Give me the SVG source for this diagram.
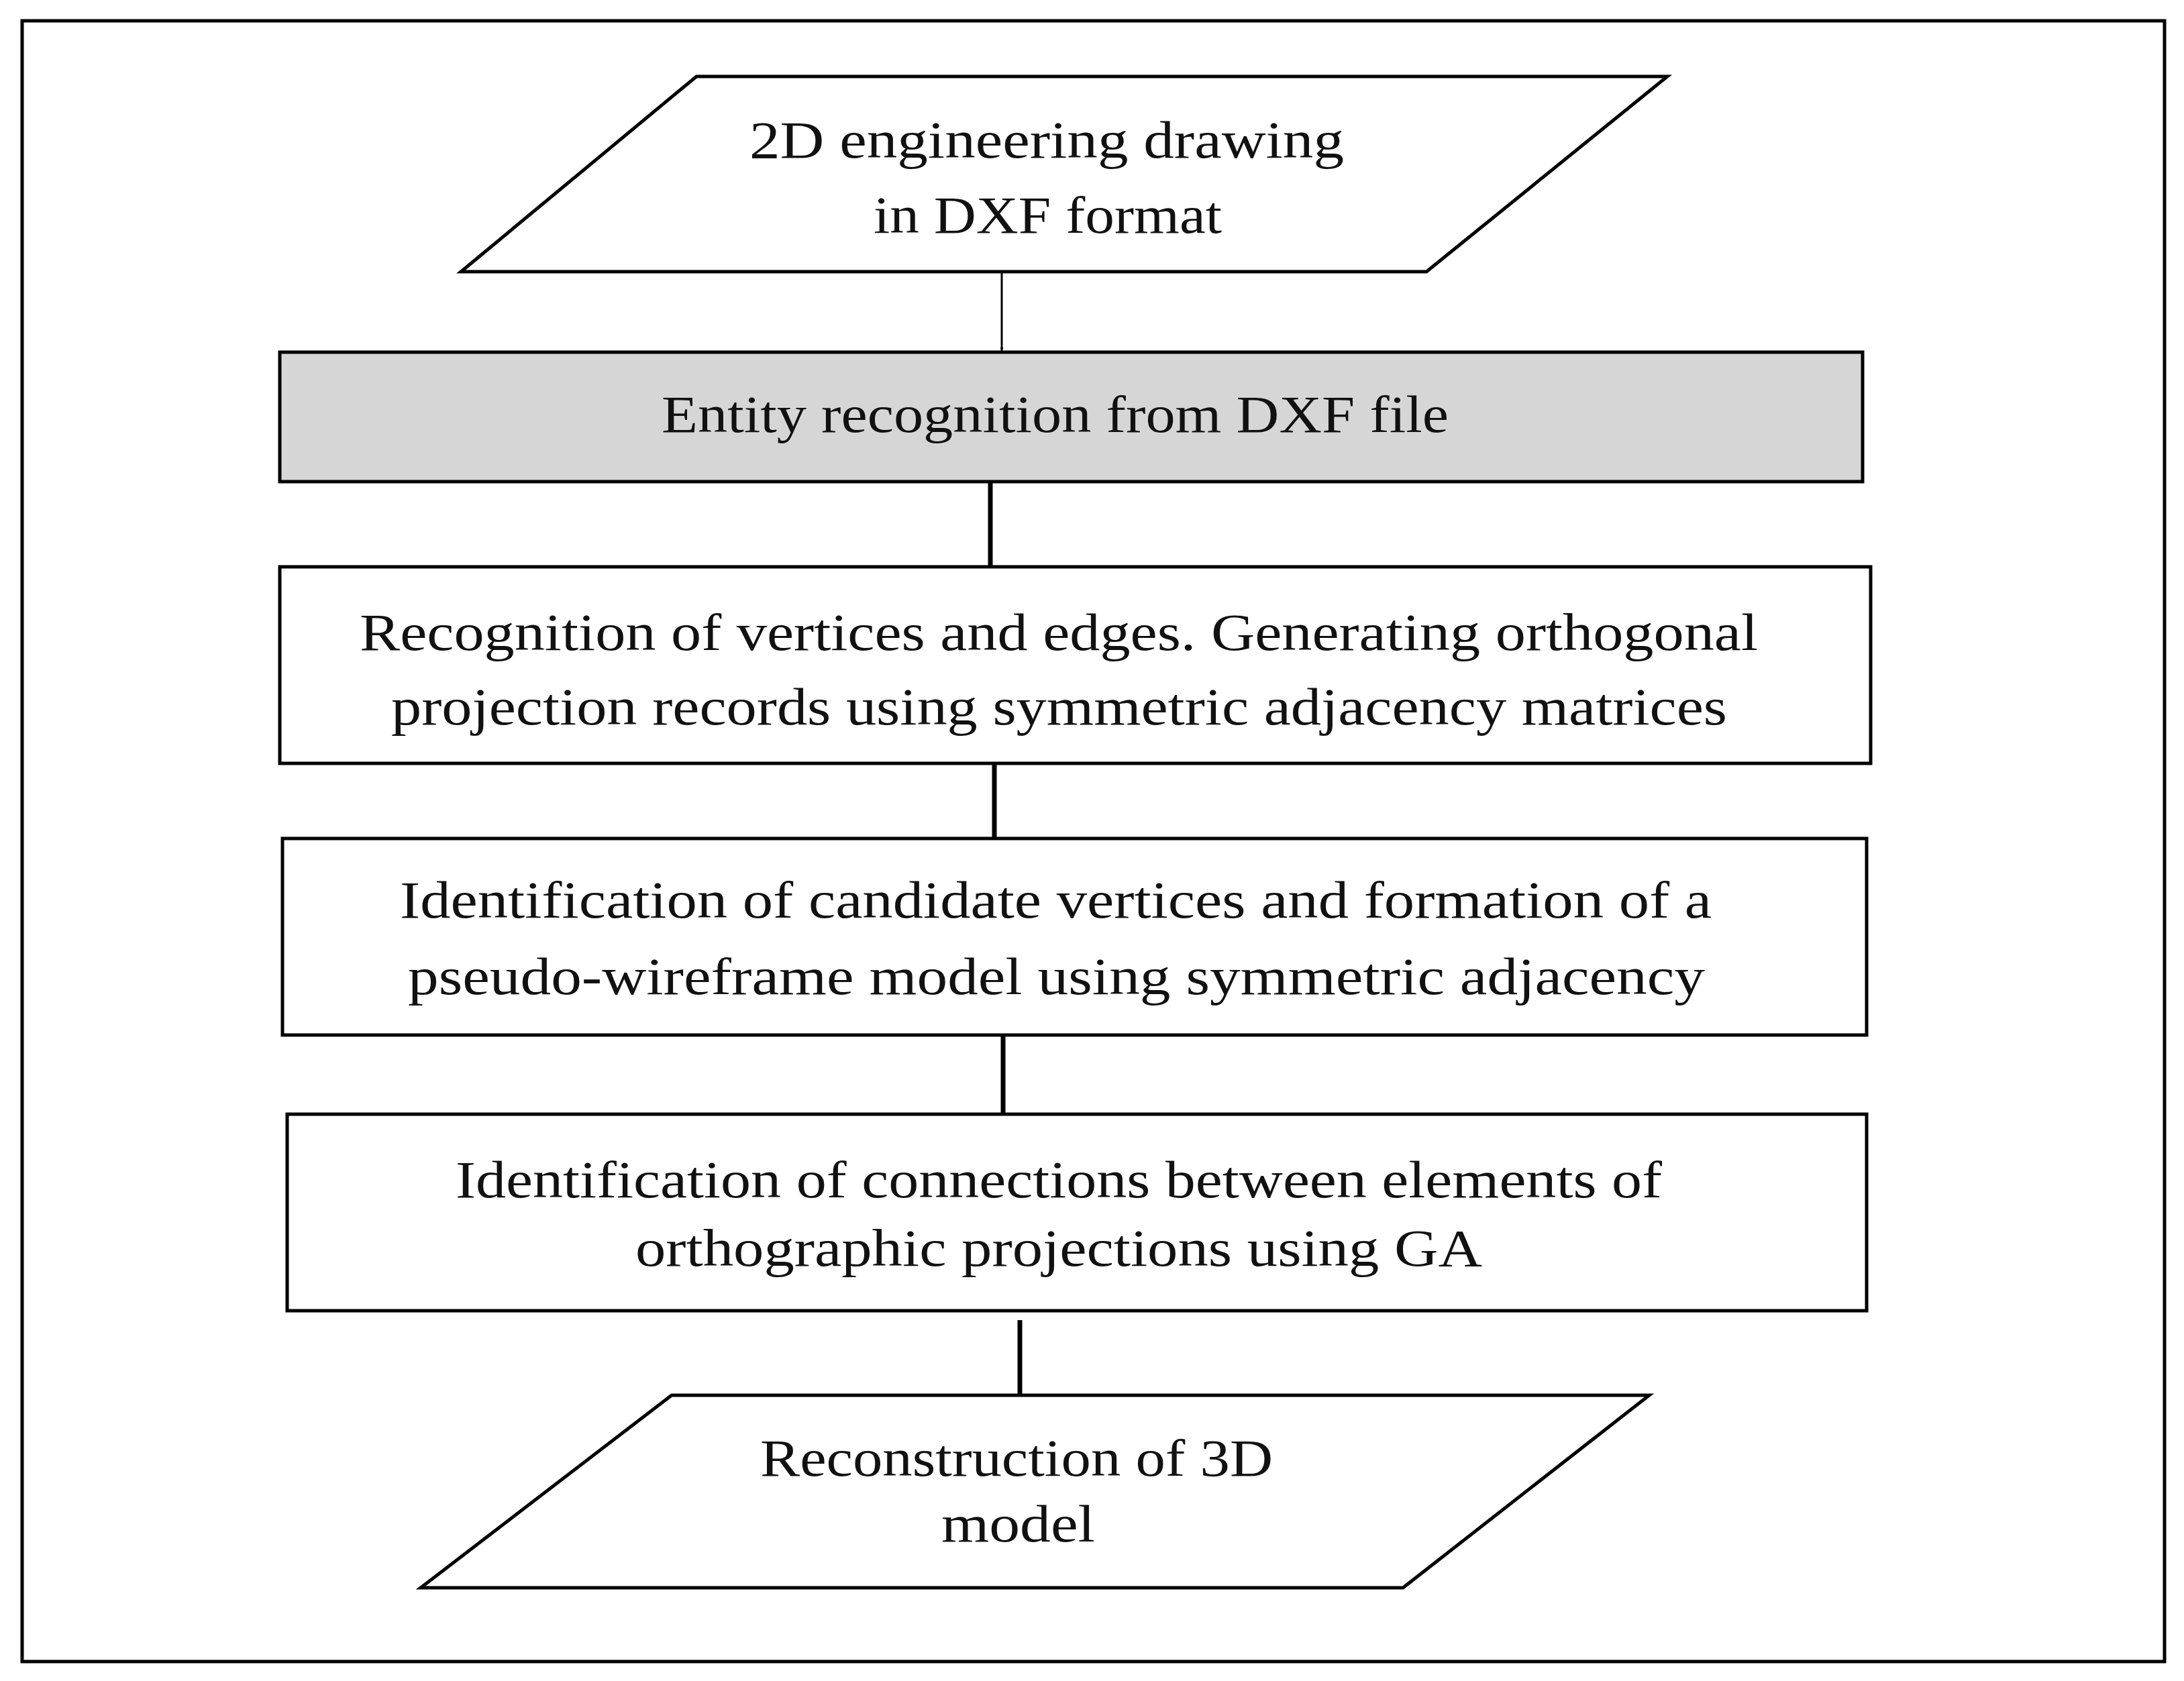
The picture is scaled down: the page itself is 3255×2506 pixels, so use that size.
<svg xmlns="http://www.w3.org/2000/svg" width="3255" height="2506" viewBox="0 0 3255 2506">
<style>
.s{fill:#fff;stroke:#000;stroke-width:5}
.t{font-family:"Liberation Serif",serif;font-size:78px;fill:#111}
.c{stroke:#000;fill:none}
</style>
<defs>
<marker id="a" viewBox="0 0 10 10" refX="10" refY="5" markerWidth="5" markerHeight="5" markerUnits="userSpaceOnUse" orient="auto"><path d="M0,0L10,5L0,10z" fill="#000"/></marker>
</defs>
<rect width="3255" height="2506" fill="#fff"/>
<rect x="33" y="31" width="3193" height="2446" fill="none" stroke="#000" stroke-width="5"/>
<g id="connectors">
<line class="c" x1="1493" y1="405" x2="1493" y2="523" stroke-width="3" marker-end="url(#a)" style="--m:0"/>
<line class="c" x1="1476" y1="718" x2="1476" y2="843" stroke-width="7" marker-end="url(#a)"/>
<line class="c" x1="1482" y1="1138" x2="1482" y2="1256" stroke-width="7" marker-end="url(#a)"/>
<line class="c" x1="1495" y1="1543" x2="1495" y2="1667" stroke-width="7" marker-end="url(#a)"/>
<line class="c" x1="1520" y1="1968" x2="1520" y2="2093" stroke-width="7" marker-end="url(#a)"/>
</g>
<g id="n1">
<polygon class="s" points="1038,114 2485,114 2126,405 687,405"/>
<text class="t" x="1117" y="235" textLength="886" lengthAdjust="spacingAndGlyphs">2D engineering drawing</text>
<text class="t" x="1302" y="347" textLength="519" lengthAdjust="spacingAndGlyphs">in DXF format</text>
</g>
<g id="n2">
<rect x="417" y="525" width="2359" height="193" fill="#d6d6d6" stroke="#000" stroke-width="5"/>
<text class="t" x="986" y="644" textLength="1173" lengthAdjust="spacingAndGlyphs">Entity recognition from DXF file</text>
</g>
<g id="n3">
<rect class="s" x="417" y="845" width="2371" height="293"/>
<text class="t" x="536" y="969" textLength="2084" lengthAdjust="spacingAndGlyphs">Recognition of vertices and edges. Generating orthogonal</text>
<text class="t" x="583" y="1080" textLength="1991" lengthAdjust="spacingAndGlyphs">projection records using symmetric adjacency matrices</text>
</g>
<g id="n4">
<rect class="s" x="421" y="1250" width="2361" height="293"/>
<text class="t" x="596" y="1368" textLength="1955" lengthAdjust="spacingAndGlyphs">Identification of candidate vertices and formation of a</text>
<text class="t" x="608" y="1482" textLength="1933" lengthAdjust="spacingAndGlyphs">pseudo-wireframe model using symmetric adjacency</text>
</g>
<g id="n5">
<rect class="s" x="428" y="1661" width="2354" height="293"/>
<text class="t" x="679" y="1785" textLength="1798" lengthAdjust="spacingAndGlyphs">Identification of connections between elements of</text>
<text class="t" x="947" y="1887" textLength="1262" lengthAdjust="spacingAndGlyphs">orthographic projections using GA</text>
</g>
<g id="n6">
<polygon class="s" points="1001,2080 2458,2080 2091,2367 627,2367"/>
<text class="t" x="1133" y="2200" textLength="764" lengthAdjust="spacingAndGlyphs">Reconstruction of 3D</text>
<text class="t" x="1403" y="2298" textLength="229" lengthAdjust="spacingAndGlyphs">model</text>
</g>
</svg>
